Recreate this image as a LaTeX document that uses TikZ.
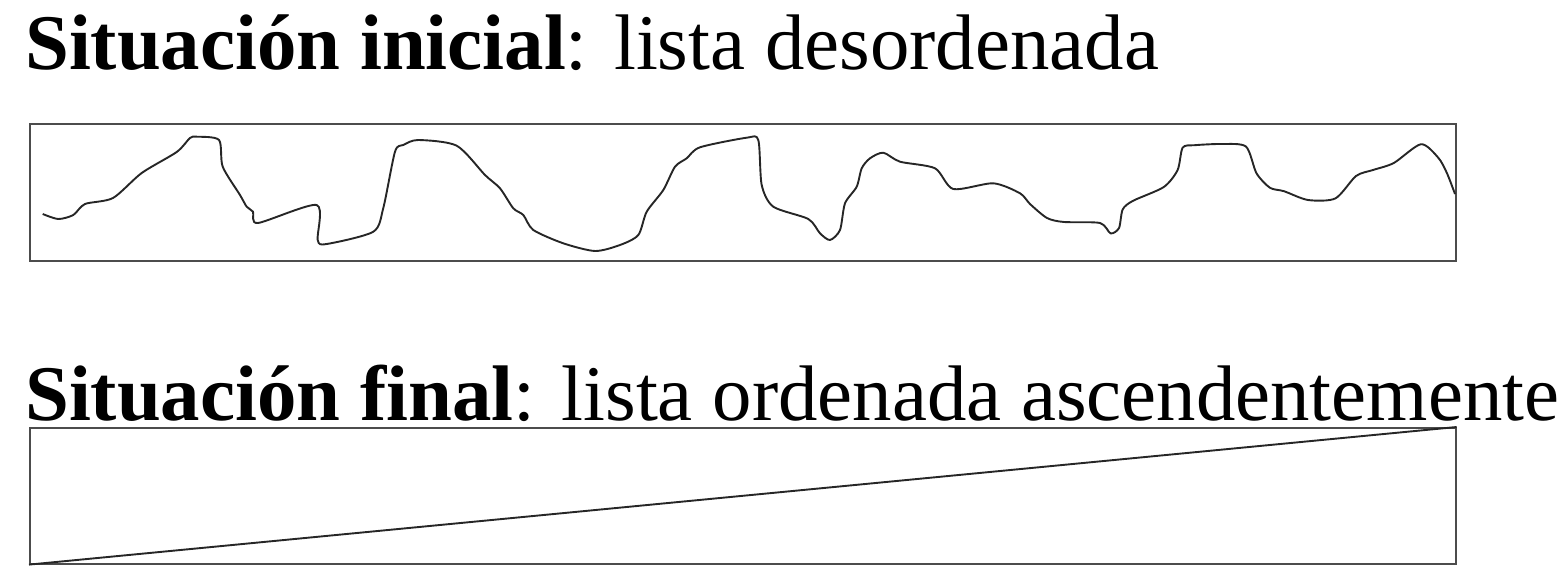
\documentclass[tikz,border=0pt]{standalone}
\usepackage{fontspec}
\setmainfont{Liberation Serif}
\begin{document}
\begin{tikzpicture}[x=1pt,y=-1pt,
  frame/.style={draw=black!70,line width=1.6pt,rectangle,inner sep=0pt,anchor=north west},
  wave/.style={draw=black!85,line width=1.9pt,line join=round},
  title/.style={anchor=base west,inner sep=0pt,font=\fontsize{78.8}{90}\selectfont}]
\useasboundingbox (0,0) rectangle (1568,588);
\node[title] (t1) at (25,70) {\textbf{Situación inicial}: lista desordenada};
\node[frame,minimum width=1426pt,minimum height=137pt] (box1) at (29,123) {};
\node[title] (t2) at (25,420) {\textbf{Situación final}: lista ordenada ascendentemente};
\node[frame,minimum width=1426pt,minimum height=136pt] (box2) at (29,427) {};
\draw[wave] plot[smooth,tension=0.45] coordinates {
 (42.7,214) (58.3,219) (73.3,215) (85,204) (113,198) (141.7,173) (176.7,152)
 (190,138) (196.7,136.7) (219,140) (222.7,166.7) (240,195) (246.7,206.7)
 (253,211.7) (258,223) (316.7,205) (317.7,240) (326.7,244) (373.3,231.7)
 (383.3,208) (395,151.7) (403.3,145) (418.3,140) (456.7,145.7) (485,175)
 (500,188.3) (513.3,208.3) (523.3,215) (533.3,230) (563.3,243.3) (595,251)
 (620,245) (638.3,235) (646.7,211.7) (663.3,190) (675,166.7) (686.7,158.3)
 (700,147.3) (746.7,137.7) (758.3,140) (761.7,185) (773.3,206.7) (808.3,219)
 (820,233.3) (830,240) (840,230) (845,203.3) (856.7,186.7) (861.7,168.3)
 (870,158.3) (883.3,152.7) (900,161.7) (935,168.3) (953.3,189) (993.3,183.3)
 (1020,193.3) (1030,204) (1047,218) (1064,222) (1100,223) (1110.6,233.4)
 (1119,228) (1122.7,209.4) (1133,200.8) (1163.8,187) (1177.6,170)
 (1182.7,147.6) (1194.7,145.2) (1222,144) (1246,146.6) (1256.5,173.3)
 (1270,187.8) (1284,191.2) (1308,200) (1335.4,198.4) (1356,176) (1373,170)
 (1393.8,163) (1421,144.2) (1438.4,157.9) (1447,173.3) (1455,194)};
\draw[wave] (box2.south west) -- (box2.north east);
\end{tikzpicture}
\end{document}
